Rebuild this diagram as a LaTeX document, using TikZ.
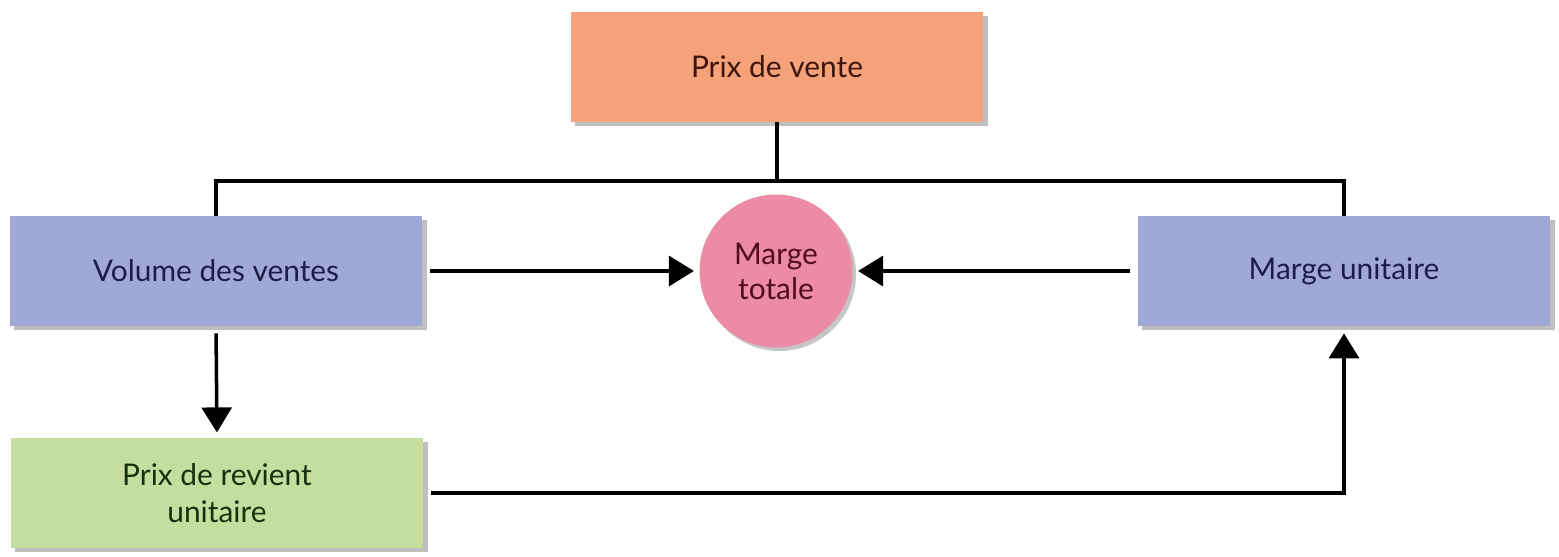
\documentclass[tikz,border=0pt]{standalone}
\usepackage{fontspec}
\setmainfont{Lato}
\usetikzlibrary{positioning, shapes, arrows.meta, shadows}
\definecolor{PriceOrange}{RGB}{245, 161, 122}
\definecolor{VolumeBlue}{RGB}{161, 168, 213}
\definecolor{CostGreen}{RGB}{197, 222, 160}
\definecolor{MarginPink}{RGB}{236, 139, 166}

\tikzset{
  box/.style={rectangle, minimum width=8.26cm, minimum height=2.2cm, align=center,
    font=\fontsize{17}{21}\selectfont,
    drop shadow={shadow xshift=2.5pt, shadow yshift=-2.5pt, opacity=0.5}},
  link/.style={line width=2pt},
  arrow/.style={link, -{Triangle[length=0.5cm, width=0.6cm]}}
}

\begin{document}
\begin{tikzpicture}[x=0.02cm, y=-0.02cm]
      \useasboundingbox (0,0) rectangle (1559,556);

      % Boxes
      \node[box, fill=PriceOrange, text={rgb,255:red,60;green,22;blue,12}] (prixvente) at (777,67) {Prix de vente};
      \node[box, fill=VolumeBlue, text={rgb,255:red,28;green,30;blue,72}] (volume) at (216,271) {Volume des ventes};
      \node[box, fill=VolumeBlue, text={rgb,255:red,28;green,30;blue,72}] (margeunit) at (1344,271) {Marge unitaire};
      \node[box, fill=CostGreen, text={rgb,255:red,22;green,50;blue,12}] (revient) at (217,493) {Prix de revient\\unitaire};

      % Central circle
      \node[circle, fill=MarginPink, minimum size=3.06cm, align=center, inner sep=0pt,
        font=\fontsize{17}{20}\selectfont, text={rgb,255:red,82;green,12;blue,32},
        drop shadow={shadow xshift=2pt, shadow yshift=-2pt, opacity=0.45}] (margetot) at (776,271) {Marge\\totale};

      % Top connector
      \coordinate (split) at (777,181);
      \draw[link] (prixvente.south) -- (split);
      \draw[link] (volume.north) |- (split) -| (margeunit.north);

      % Arrows
      \draw[arrow, shorten <=4pt, shorten >=3pt] (volume.east) -- (margetot.west);
      \draw[arrow, shorten <=4pt, shorten >=3pt] (margeunit.west) -- (margetot.east);
      \draw[arrow, shorten <=4pt, shorten >=3pt] (volume.south) -- (revient.north);
      \draw[arrow, shorten <=4pt, shorten >=4pt] (revient.east) -| (margeunit.south);
    \end{tikzpicture}
\end{document}
